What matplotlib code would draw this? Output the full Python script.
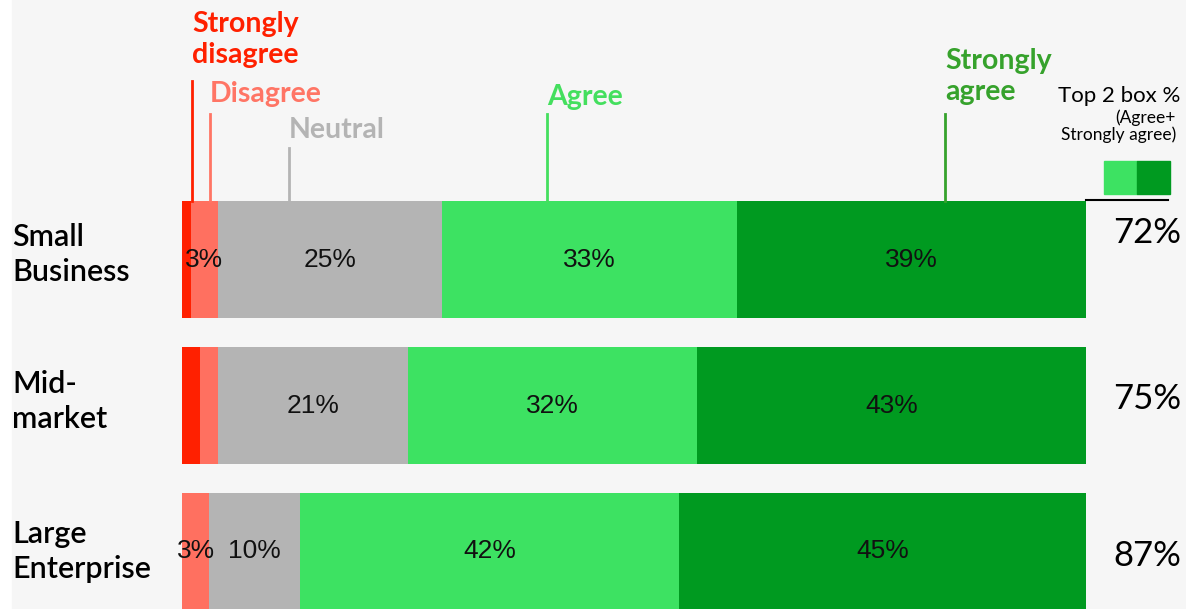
import matplotlib
matplotlib.use('Agg')
import matplotlib.pyplot as plt
import matplotlib.patches as patches
import matplotlib.transforms as transforms
import numpy as np

# survey responses, % of each segment
segments = ['Small\nBusiness', 'Mid-\nmarket', 'Large\nEnterprise']
strongly_disagree = [1, 2, 0]
disagree = [3, 2, 3]
neutral = [25, 21, 10]
agree = [33, 32, 42]
strongly_agree = [39, 43, 45]

levels = ['Strongly\ndisagree', 'Disagree', 'Neutral', 'Agree', 'Strongly\nagree']
bar_colors = ['#ff2000', '#ff7060', '#b4b4b4', '#3de262', '#009a20']
text_colors = ['#ff2000', '#ff7565', '#b4b4b4', '#44df5e', '#36a22c']

W, H = 1186, 609
ROW = 146.0          # px between bar centres
fig = plt.figure(figsize=(W / 100, H / 100), dpi=100)
fig.patch.set_facecolor('white')
fig.patches.append(patches.Rectangle((12 / W, 0), 1, 1, transform=fig.transFigure,
                                     color='#f6f6f6', zorder=-10))

ax = fig.add_axes([182 / W, 0, 904 / W, 1])
ax.set_xlim(0, 100)
ax.set_ylim((H - 259.5) / ROW, -259.5 / ROW)
ax.axis('off')
ax.patch.set_alpha(0)


def fy(px):
    return 1 - px / H


data = np.array([strongly_disagree, disagree, neutral, agree, strongly_agree], dtype=float)
shares = data / data.sum(axis=0) * 100
rows = np.arange(len(segments))

left = np.zeros(len(segments))
for i in range(len(levels)):
    ax.barh(rows, shares[i], left=left, height=117 / ROW, color=bar_colors[i], linewidth=0)
    for r in rows:
        if data[i, r] >= 3:
            ax.text(left[r] + shares[i, r] / 2, r, f'{int(data[i, r])}%', ha='center', va='center',
                    fontsize=19, family='Liberation Sans', color='#111111')
    left += shares[i]

# column headers with leader lines down to the first bar
hx = [1.1, 3.1, 11.8, 40.4, 84.4]
line_top = [81, 114, 148, 114, 114]
label_base = [63, 102, 138, 105, 100]
hdr = transforms.blended_transform_factory(ax.transData, fig.transFigure)
for i in range(len(levels)):
    ax.plot([hx[i], hx[i]], [fy(line_top[i]), fy(201)], transform=hdr, color=text_colors[i],
            linewidth=2, clip_on=False)
    ax.text(hx[i], fy(label_base[i]), levels[i], transform=hdr, ha='left', va='baseline',
            fontsize=20.5, family='Lato', fontweight='bold', color=text_colors[i],
            linespacing=1.22)

# segment names on the left
lab = transforms.blended_transform_factory(fig.transFigure, ax.transData)
name_dy = [21, 22.5, 26.5]
for r, name in enumerate(segments):
    ax.text(12 / W, r + name_dy[r] / ROW, name, transform=lab, ha='left', va='baseline',
            fontsize=22, family='Lato', fontweight='semibold', color='black', linespacing=1.3)

# top 2 box column
top2 = data[3] + data[4]
top2_dy = [-27, -7, 5]
for r in rows:
    ax.text(1181 / W, r + top2_dy[r] / ROW, f'{int(top2[r])}%', transform=lab, ha='right',
            va='center', fontsize=25, family='Lato', color='black')

fig.text(1180 / W, fy(102), 'Top 2 box %', ha='right', va='baseline', fontsize=16,
         family='Lato', color='black')
fig.text(1176 / W, fy(140), '(Agree+\nStrongly agree)', ha='right', va='baseline', fontsize=12.5,
         family='Lato', color='black', multialignment='right', linespacing=1.05)
fig.patches.append(patches.Rectangle((1104 / W, fy(194)), 33 / W, 33 / H, transform=fig.transFigure,
                                     color=bar_colors[3]))
fig.patches.append(patches.Rectangle((1137 / W, fy(194)), 33 / W, 33 / H, transform=fig.transFigure,
                                     color=bar_colors[4]))
fig.lines.append(plt.Line2D([1086 / W, 1168 / W], [fy(200), fy(200)], transform=fig.transFigure,
                            color='black', linewidth=1.5))

plt.savefig('out.png', dpi=100, facecolor=fig.get_facecolor())
